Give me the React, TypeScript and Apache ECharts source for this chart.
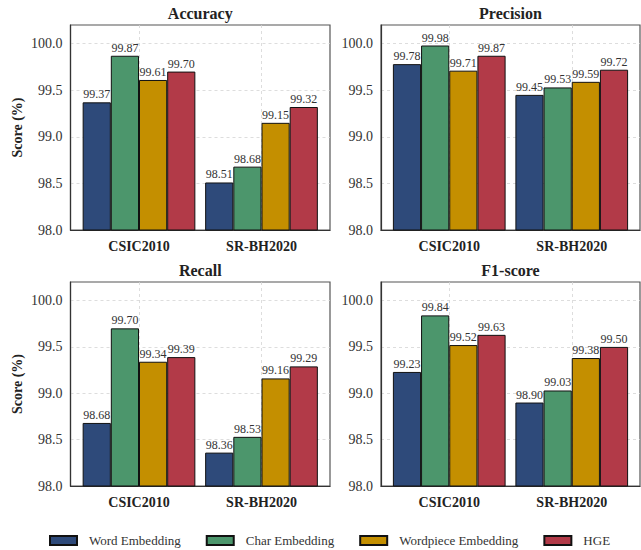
import React, { useEffect, useRef } from 'react';
import * as echarts from 'echarts';

const categories = ['CSIC2010', 'SR-BH2020'];
const seriesNames = ['Word Embedding', 'Char Embedding', 'Wordpiece Embedding', 'HGE'];
const seriesColors = ['#2e4a7a', '#4c966c', '#c48f00', '#b23a48'];
const metricTitles = ['Accuracy', 'Precision', 'Recall', 'F1-score'];

// values per series: [CSIC2010, SR-BH2020]
const accuracyValues = [[99.37, 98.51], [99.87, 98.68], [99.61, 99.15], [99.70, 99.32]];
const precisionValues = [[99.78, 99.45], [99.98, 99.53], [99.71, 99.59], [99.87, 99.72]];
const recallValues = [[98.68, 98.36], [99.70, 98.53], [99.34, 99.16], [99.39, 99.29]];
const f1Values = [[99.23, 98.90], [99.84, 99.03], [99.52, 99.38], [99.63, 99.50]];

const yTicks = [98.0, 98.5, 99.0, 99.5, 100.0];
const yMin = 98.0;
const yMax = 100.2;

const FONT = "'Liberation Serif', 'DejaVu Serif', 'Times New Roman', Times, serif";

const panels = [
  { left: 70.5, top: 25, width: 259.5, height: 205 },
  { left: 381, top: 25, width: 259, height: 205 },
  { left: 70.5, top: 282, width: 259.5, height: 204 },
  { left: 381, top: 282, width: 259, height: 204 },
];
const unitPx = 122.5;

export default function App() {
  const ref = useRef<HTMLDivElement>(null);
  useEffect(() => {
    if (!ref.current) return;
    const chart = echarts.init(ref.current, null, { renderer: 'svg' });
    const allValues = [accuracyValues, precisionValues, recallValues, f1Values];

    const grid = panels.map((p) => ({
      left: p.left,
      top: p.top,
      width: p.width,
      height: p.height,
      show: true,
      borderColor: '#555',
      borderWidth: 1.2,
      containLabel: false,
    }));

    const xAxis = panels.map((p, i) => {
      const half = p.width / 2 / unitPx;
      return {
        type: 'value',
        gridIndex: i,
        min: 0.5 - half,
        max: 0.5 + half,
        axisLine: { show: true, onZero: false, lineStyle: { color: '#333', width: 1.2 } },
        axisTick: { show: false, customValues: [0, 1] },
        axisLabel: {
          customValues: [0, 1],
          formatter: (v: number) => categories[Math.round(v)] ?? '',
          fontFamily: FONT,
          fontWeight: 'bold',
          fontSize: 14,
          color: '#222',
          margin: 9,
        },
        splitLine: { show: true, lineStyle: { color: '#d4d4d4', type: [3, 3], width: 0.8 } },
      };
    });

    const yAxis = panels.map((p, i) => ({
      type: 'value',
      gridIndex: i,
      min: yMin,
      max: yMax,
      interval: 0.5,
      name: i % 2 === 0 ? 'Score (%)' : '',
      nameLocation: 'middle',
      nameGap: 46,
      nameTextStyle: { fontFamily: FONT, fontWeight: 'bold', fontSize: 14, color: '#222' },
      axisLine: { show: true, onZero: false, lineStyle: { color: '#333', width: 1.2 } },
      axisTick: { show: false, customValues: yTicks },
      axisLabel: {
        customValues: yTicks,
        formatter: (v: number) => v.toFixed(1),
        fontFamily: FONT,
        fontSize: 14,
        color: '#333',
        margin: 8,
      },
      splitLine: { show: true, lineStyle: { color: '#d4d4d4', type: [3, 3], width: 0.8 } },
    }));

    const series: any[] = [];
    allValues.forEach((vals, pi) => {
      vals.forEach((sv, si) => {
        series.push({
          type: 'bar',
          name: seriesNames[si],
          xAxisIndex: pi,
          yAxisIndex: pi,
          data: sv.map((v, ci) => [ci, v]),
          barWidth: '23%',
          barGap: '0%',
          itemStyle: { color: seriesColors[si], borderColor: '#111', borderWidth: 1 },
          label: {
            show: true,
            position: 'top',
            distance: 2,
            formatter: (prm: any) => Number(prm.value[1]).toFixed(2),
            fontFamily: FONT,
            fontSize: 12,
            color: '#333',
          },
        });
      });
    });

    const graphic = panels.map((p, i) => ({
      type: 'text',
      x: p.left + p.width / 2,
      y: p.top - 12,
      style: {
        text: metricTitles[i],
        fontFamily: FONT,
        fontWeight: 'bold',
        fontSize: 16,
        fill: '#222',
        align: 'center',
        verticalAlign: 'middle',
      },
    }));

    chart.setOption({
      animation: false,
      backgroundColor: '#ffffff',
      textStyle: { fontFamily: FONT },
      grid,
      xAxis,
      yAxis,
      series,
      graphic,
      legend: {
        data: seriesNames,
        left: 49,
        top: 534,
        padding: 0,
        itemWidth: 27,
        itemHeight: 9,
        itemGap: 25,
        icon: 'rect',
        textStyle: { fontFamily: FONT, fontSize: 13, color: '#333', padding: [0, 0, 0, 7] },
      },
    });
    return () => chart.dispose();
  }, []);
  return (
    <div
      ref={ref}
      style={{ position: 'absolute', left: 0, top: 0, width: 641, height: 550 }}
    />
  );
}
